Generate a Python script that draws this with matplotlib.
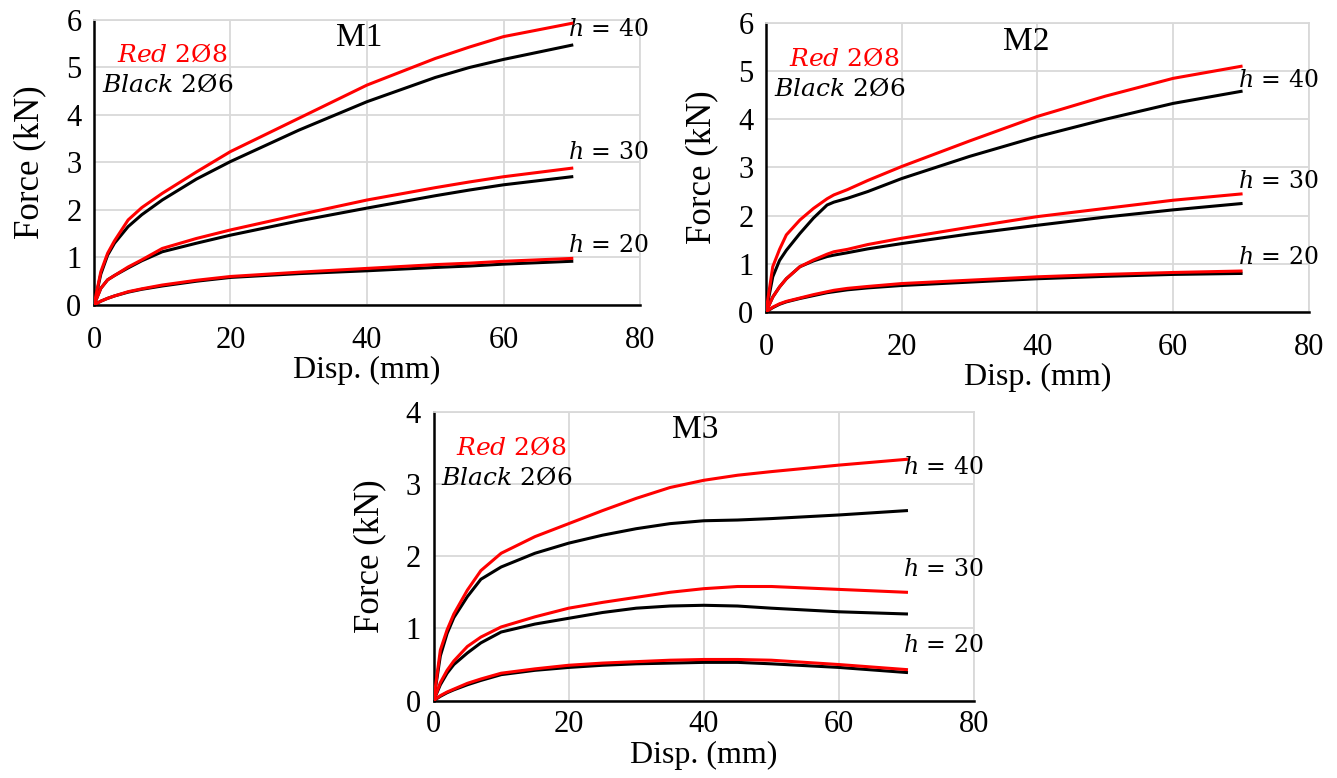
import matplotlib
matplotlib.use("Agg")
import matplotlib.pyplot as plt

plt.rcParams['font.family'] = ['Liberation Serif', 'DejaVu Serif']
plt.rcParams['mathtext.fontset'] = 'custom'
plt.rcParams['mathtext.it'] = 'DejaVu Serif:italic'
plt.rcParams['mathtext.rm'] = 'DejaVu Serif'

# ---- M1 ----
m1_disp = [0, 1, 2, 3, 5, 7, 10, 15, 20, 30, 40, 50, 55, 60, 70]
m1_red_h40 = [0, 0.70, 1.09, 1.35, 1.79, 2.05, 2.35, 2.80, 3.23, 3.93, 4.63, 5.19, 5.43, 5.65, 5.93]
m1_blk_h40 = [0, 0.65, 1.05, 1.30, 1.65, 1.90, 2.21, 2.65, 3.02, 3.68, 4.28, 4.79, 5.00, 5.17, 5.47]
m1_red_h30 = [0, 0.35, 0.53, 0.62, 0.80, 0.95, 1.19, 1.40, 1.58, 1.90, 2.21, 2.47, 2.59, 2.70, 2.88]
m1_blk_h30 = [0, 0.35, 0.53, 0.62, 0.78, 0.93, 1.12, 1.30, 1.47, 1.77, 2.04, 2.30, 2.42, 2.53, 2.70]
m1_red_h20 = [0, 0.08, 0.14, 0.19, 0.28, 0.34, 0.42, 0.52, 0.60, 0.69, 0.77, 0.85, 0.88, 0.92, 0.98]
m1_blk_h20 = [0, 0.08, 0.14, 0.19, 0.27, 0.33, 0.40, 0.50, 0.58, 0.66, 0.72, 0.79, 0.82, 0.86, 0.92]

# ---- M2 ----
m2_disp = [0, 1, 2, 3, 5, 7, 9, 10, 12, 15, 20, 30, 40, 50, 60, 70]
m2_red_h40 = [0, 0.94, 1.30, 1.60, 1.91, 2.15, 2.35, 2.43, 2.54, 2.73, 3.02, 3.55, 4.06, 4.48, 4.85, 5.10]
m2_blk_h40 = [0, 0.73, 1.07, 1.28, 1.63, 1.95, 2.22, 2.28, 2.36, 2.50, 2.77, 3.23, 3.64, 4.00, 4.33, 4.58]
m2_red_h30 = [0, 0.31, 0.52, 0.69, 0.94, 1.08, 1.20, 1.25, 1.30, 1.40, 1.53, 1.76, 1.98, 2.15, 2.32, 2.45]
m2_blk_h30 = [0, 0.31, 0.52, 0.69, 0.94, 1.06, 1.15, 1.18, 1.23, 1.31, 1.42, 1.62, 1.80, 1.97, 2.12, 2.25]
m2_red_h20 = [0, 0.10, 0.17, 0.22, 0.29, 0.36, 0.42, 0.45, 0.49, 0.53, 0.59, 0.66, 0.73, 0.78, 0.82, 0.85]
m2_blk_h20 = [0, 0.09, 0.16, 0.21, 0.28, 0.34, 0.40, 0.42, 0.46, 0.50, 0.55, 0.62, 0.69, 0.74, 0.78, 0.80]

# ---- M3 ----
m3_disp = [0, 1, 2, 3, 5, 7, 10, 15, 20, 25, 30, 35, 40, 45, 50, 60, 70]
m3_red_h40 = [0, 0.70, 0.98, 1.20, 1.53, 1.80, 2.04, 2.27, 2.45, 2.63, 2.80, 2.95, 3.05, 3.12, 3.17, 3.26, 3.34]
m3_blk_h40 = [0, 0.62, 0.93, 1.15, 1.44, 1.68, 1.85, 2.04, 2.18, 2.29, 2.38, 2.45, 2.49, 2.50, 2.52, 2.57, 2.63]
m3_red_h30 = [0, 0.25, 0.42, 0.55, 0.75, 0.88, 1.02, 1.16, 1.28, 1.36, 1.43, 1.50, 1.55, 1.58, 1.58, 1.54, 1.50]
m3_blk_h30 = [0, 0.22, 0.38, 0.50, 0.66, 0.80, 0.95, 1.06, 1.14, 1.22, 1.28, 1.31, 1.32, 1.31, 1.28, 1.23, 1.20]
m3_red_h20 = [0, 0.07, 0.12, 0.16, 0.24, 0.30, 0.38, 0.44, 0.49, 0.52, 0.54, 0.56, 0.57, 0.57, 0.56, 0.50, 0.43]
m3_blk_h20 = [0, 0.06, 0.11, 0.15, 0.22, 0.28, 0.36, 0.42, 0.46, 0.49, 0.51, 0.52, 0.53, 0.53, 0.51, 0.46, 0.39]

x_ticks = [0, 20, 40, 60, 80]
heights = ["40", "30", "20"]

RED = '#ff0000'
BLK = '#000000'
GRID = '#d9d9d9'

fig = plt.figure(figsize=(13.37, 7.78), dpi=100)

panels = [
    dict(title="M1", rect=[0.0703, 0.608, 0.4084, 0.3663], ymax=6,
         disp=m1_disp,
         red=[m1_red_h40, m1_red_h30, m1_red_h20],
         blk=[m1_blk_h40, m1_blk_h30, m1_blk_h20],
         label_y=[5.79, 3.22, 1.26], title_xy=(38.8, 5.62), tpad=15, xpad=1),
    dict(title="M2", rect=[0.5729, 0.599, 0.4061, 0.3715], ymax=6,
         disp=m2_disp,
         red=[m2_red_h40, m2_red_h30, m2_red_h20],
         blk=[m2_blk_h40, m2_blk_h30, m2_blk_h20],
         label_y=[4.81, 2.70, 1.14], title_xy=(38.4, 5.6), tpad=15, xpad=1),
    dict(title="M3", rect=[0.3243, 0.0994, 0.4042, 0.3715], ymax=4,
         disp=m3_disp,
         red=[m3_red_h40, m3_red_h30, m3_red_h20],
         blk=[m3_blk_h40, m3_blk_h30, m3_blk_h20],
         label_y=[3.23, 1.81, 0.77], title_xy=(38.7, 3.75), tpad=7, xpad=1),
]

for p in panels:
    ax = fig.add_axes(p["rect"])
    ymax = p["ymax"]
    ax.set_xlim(0, 80)
    ax.set_ylim(0, ymax)
    ax.set_xticks(x_ticks)
    ax.set_yticks(range(0, ymax + 1))
    ax.grid(True, color=GRID, lw=1.3, zorder=0)
    ax.set_axisbelow(True)
    for s in ("top", "right"):
        ax.spines[s].set_color(GRID)
        ax.spines[s].set_linewidth(1.3)
    for s in ("left", "bottom"):
        ax.spines[s].set_color('black')
        ax.spines[s].set_linewidth(1.8)
    ax.tick_params(axis='both', length=0, labelsize=22)
    ax.tick_params(axis='x', pad=p["tpad"])
    ax.tick_params(axis='y', pad=9)
    ax.set_xlabel("Disp. (mm)", fontsize=23, labelpad=p["xpad"])
    ax.set_ylabel("Force (kN)", fontsize=25, labelpad=14)

    for b in p["blk"]:
        ax.plot(p["disp"], b, color=BLK, lw=2.2, zorder=3,
                solid_joinstyle='round')
    for r in p["red"]:
        ax.plot(p["disp"], r, color=RED, lw=2.2, zorder=4,
                solid_joinstyle='round')

    for h, yl in zip(heights, p["label_y"]):
        ax.text(69.5, yl, r"$h$ = " + h, fontsize=17, family='DejaVu Serif',
                ha='left', va='center', clip_on=False)

    tx, ty = p["title_xy"]
    ax.text(tx, ty, p["title"], fontsize=24, ha='center', va='center')

    ax.text(0.042, 0.875, r"$Red$ 2Ø8", transform=ax.transAxes, color=RED,
            fontsize=18, family='DejaVu Serif', ha='left', va='center')
    ax.text(0.014, 0.77, r"$Black$ 2Ø6", transform=ax.transAxes, color=BLK,
            fontsize=18, family='DejaVu Serif', ha='left', va='center')

fig.savefig("out.png", dpi=100)
